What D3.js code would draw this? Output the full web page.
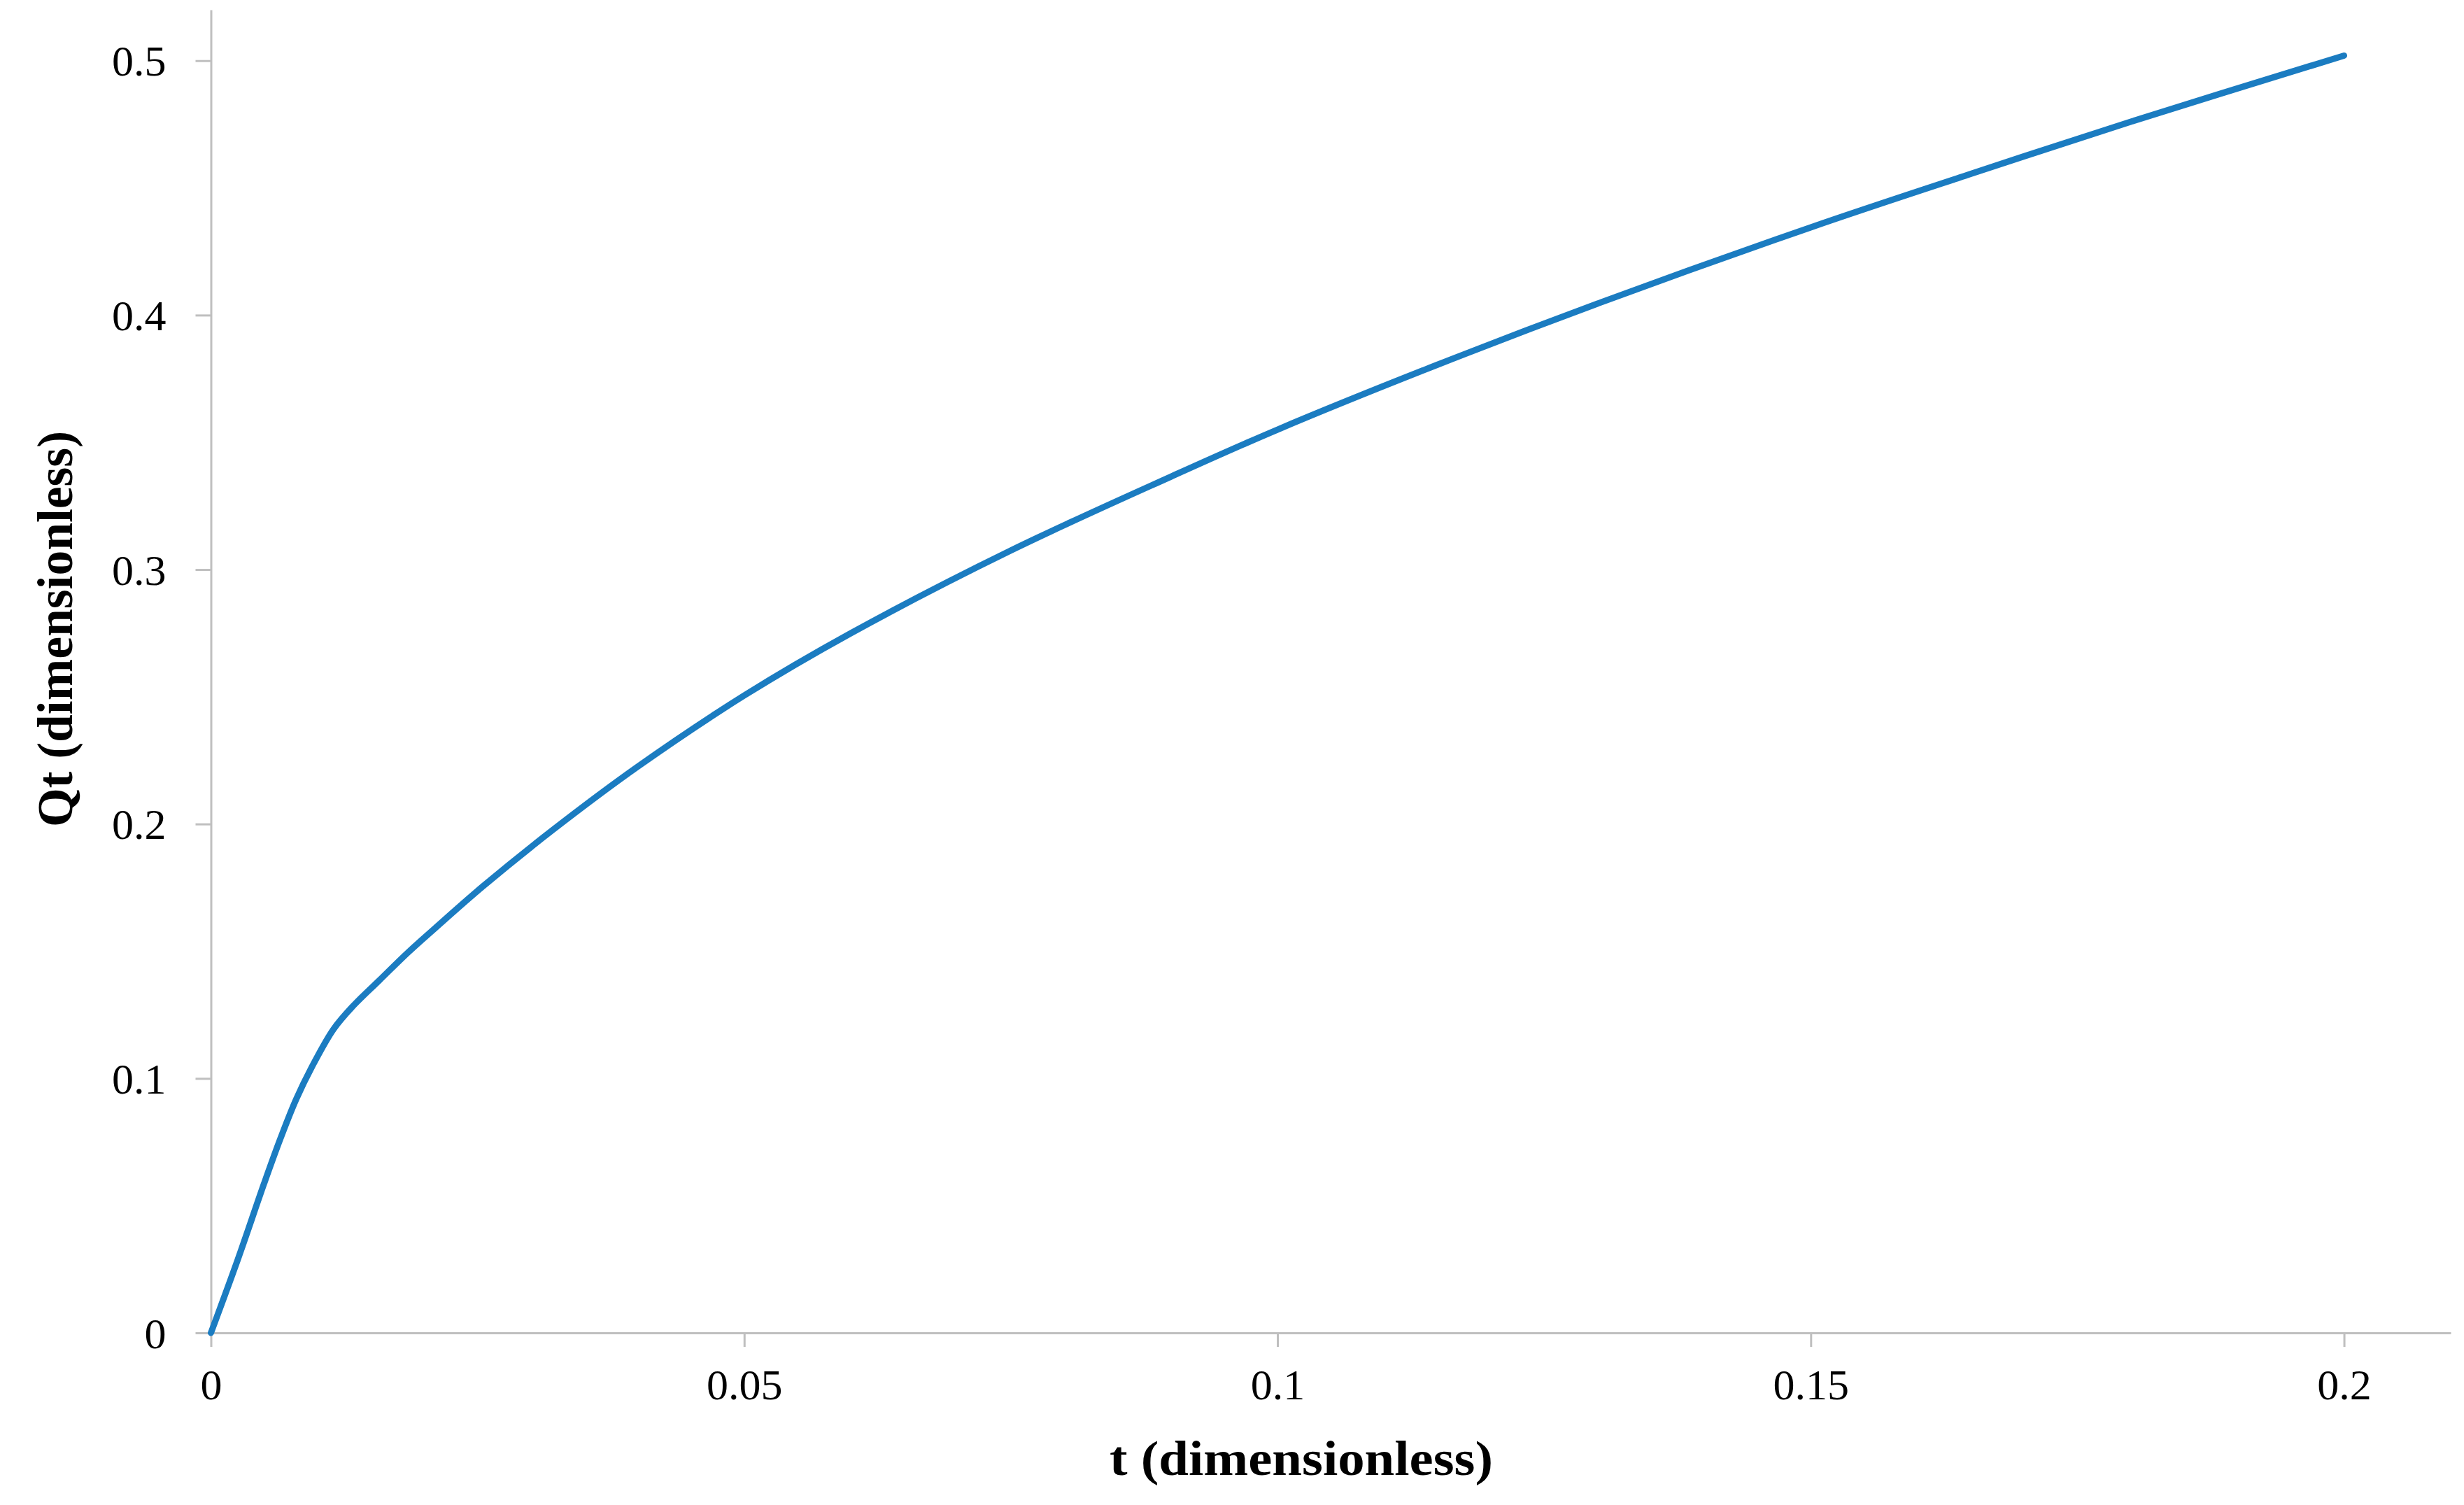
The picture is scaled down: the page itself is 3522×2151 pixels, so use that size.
<!DOCTYPE html>
<html lang="en">
  <head>
    <meta charset="utf-8">
    <title>Qt vs t</title>
    <script src="https://d3js.org/d3.v7.min.js"></script>
    <style>
      body { margin: 0; background: #fff; }
      svg text { font-family: "Liberation Serif", "Times New Roman", serif; fill: #000; }
    </style>
  </head>
  <body>
    <div id="chart"></div>
    <script>
      // values
      var tValues = [0, 0.0025, 0.005, 0.0065, 0.008, 0.0097, 0.0115, 0.0132, 0.0158, 0.0185,
                     0.021, 0.0255, 0.032, 0.04, 0.05, 0.06, 0.075, 0.09, 0.1, 0.115,
                     0.13, 0.15, 0.165, 0.18, 0.2];
      var qtValues = [0, 0.0286, 0.0589, 0.0762, 0.0919, 0.1064, 0.1194, 0.1279, 0.1386, 0.1496,
                      0.1590, 0.1755, 0.1975, 0.2225, 0.2505, 0.2750, 0.3075, 0.3365, 0.355, 0.3805,
                      0.4045, 0.4345, 0.4555, 0.476, 0.502];
      var xTicks = [0, 0.05, 0.1, 0.15, 0.2];
      var yTicks = [0, 0.1, 0.2, 0.3, 0.4, 0.5];
      var xTitle = "t (dimensionless)";
      var yTitle = "Qt (dimensionless)";

      var W = 3522, H = 2151;
      var svg = d3.select("#chart").append("svg").attr("width", W).attr("height", H);

      var x = d3.scaleLinear().domain([0, 0.21]).range([301.5, 3503]);
      var y = d3.scaleLinear().domain([0, 0.52]).range([1905, 14]);

      var axisColor = "#bfbfbf";

      var gx = svg.append("g")
        .attr("transform", "translate(0," + y(0) + ")")
        .call(d3.axisBottom(x).tickValues(xTicks).tickSize(20).tickSizeOuter(0)
          .tickFormat(function (d) { return d3.format("")(+d.toFixed(2)); }));
      gx.selectAll("text").attr("y", 95).attr("dy", 0).style("font-size", "62px");

      var gy = svg.append("g")
        .attr("transform", "translate(" + x(0) + ",0)")
        .call(d3.axisLeft(y).tickValues(yTicks).tickSize(22).tickSizeOuter(0)
          .tickFormat(function (d) { return d3.format("")(+d.toFixed(1)); }));
      gy.selectAll("text").attr("x", -64).attr("dy", "0.34em").style("font-size", "62px");

      svg.selectAll(".domain, .tick line").attr("stroke", axisColor).attr("stroke-width", 3);

      var data = tValues.map(function (t, i) { return { t: t, q: qtValues[i] }; });
      var line = d3.line()
        .x(function (d) { return x(d.t); })
        .y(function (d) { return y(d.q); })
        .curve(d3.curveCatmullRom.alpha(0.5));

      svg.append("path")
        .datum(data)
        .attr("d", line)
        .attr("fill", "none")
        .attr("stroke", "#1b7cc1")
        .attr("stroke-width", 9)
        .attr("stroke-linecap", "round")
        .attr("stroke-linejoin", "round");

      svg.append("text")
        .attr("x", 1860).attr("y", 2108)
        .attr("text-anchor", "middle")
        .attr("textLength", 548).attr("lengthAdjust", "spacingAndGlyphs")
        .style("font-size", "70px").style("font-weight", "bold")
        .text(xTitle);

      svg.append("text")
        .attr("transform", "translate(103,899) rotate(-90)")
        .attr("text-anchor", "middle")
        .attr("textLength", 566).attr("lengthAdjust", "spacingAndGlyphs")
        .style("font-size", "72px").style("font-weight", "bold")
        .text(yTitle);
    </script>
  </body>
</html>
